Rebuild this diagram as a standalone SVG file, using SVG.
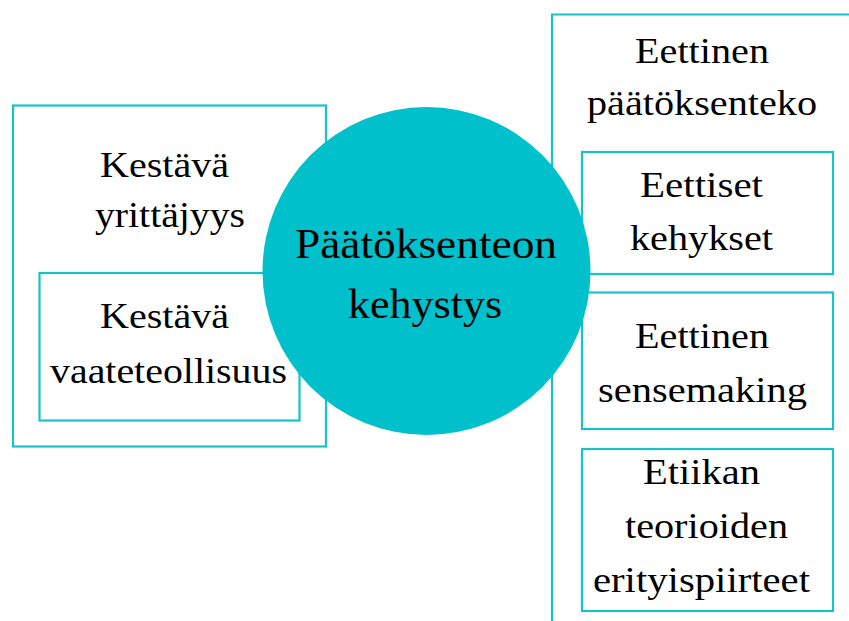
<svg xmlns="http://www.w3.org/2000/svg" width="849" height="621" viewBox="0 0 849 621">
<style>
.box{fill:none;stroke:#19C2CB;stroke-width:2.2}
.t{font-family:"Liberation Serif","Times New Roman",serif;font-size:36px;fill:#000}
.tt{font-family:"Liberation Serif","Times New Roman",serif;font-size:42px;fill:#000}
</style>
<rect width="849" height="621" fill="#fff"/>
<g id="connectors"></g>
<g id="group-left">
<rect class="box" x="13" y="105.5" width="313" height="341"/>
<text class="t" x="100" y="177" textLength="129" lengthAdjust="spacingAndGlyphs">Kestävä</text>
<text class="t" x="95" y="227" textLength="150" lengthAdjust="spacingAndGlyphs">yrittäjyys</text>
</g>
<g id="node-vaateteollisuus">
<rect class="box" x="39.5" y="273" width="260" height="147.5"/>
<text class="t" x="100" y="328" textLength="129" lengthAdjust="spacingAndGlyphs">Kestävä</text>
<text class="t" x="50" y="383" textLength="237" lengthAdjust="spacingAndGlyphs">vaateteollisuus</text>
</g>
<g id="group-right">
<path class="box" d="M552 621 V14.5 H849"/>
<text class="t" x="635" y="63" textLength="134" lengthAdjust="spacingAndGlyphs">Eettinen</text>
<text class="t" x="587" y="115" textLength="230" lengthAdjust="spacingAndGlyphs">päätöksenteko</text>
</g>
<g id="node-kehykset">
<rect class="box" x="582" y="152" width="251" height="122"/>
<text class="t" x="640" y="197" textLength="123" lengthAdjust="spacingAndGlyphs">Eettiset</text>
<text class="t" x="630" y="250" textLength="143" lengthAdjust="spacingAndGlyphs">kehykset</text>
</g>
<g id="node-sensemaking">
<rect class="box" x="582" y="292.5" width="251" height="136.5"/>
<text class="t" x="635" y="348" textLength="134" lengthAdjust="spacingAndGlyphs">Eettinen</text>
<text class="t" x="598" y="402" textLength="209" lengthAdjust="spacingAndGlyphs">sensemaking</text>
</g>
<g id="node-teoriat">
<rect class="box" x="582" y="449" width="251" height="162"/>
<text class="t" x="643" y="484" textLength="117" lengthAdjust="spacingAndGlyphs">Etiikan</text>
<text class="t" x="625" y="538" textLength="163" lengthAdjust="spacingAndGlyphs">teorioiden</text>
<text class="t" x="593" y="592" textLength="217" lengthAdjust="spacingAndGlyphs">erityispiirteet</text>
</g>
<g id="node-center">
<circle cx="426.5" cy="271" r="164" fill="#00C1CB"/>
<text class="tt" x="295" y="258" textLength="262" lengthAdjust="spacingAndGlyphs">Päätöksenteon</text>
<text class="tt" x="348" y="318" textLength="154" lengthAdjust="spacingAndGlyphs">kehystys</text>
</g>
</svg>
